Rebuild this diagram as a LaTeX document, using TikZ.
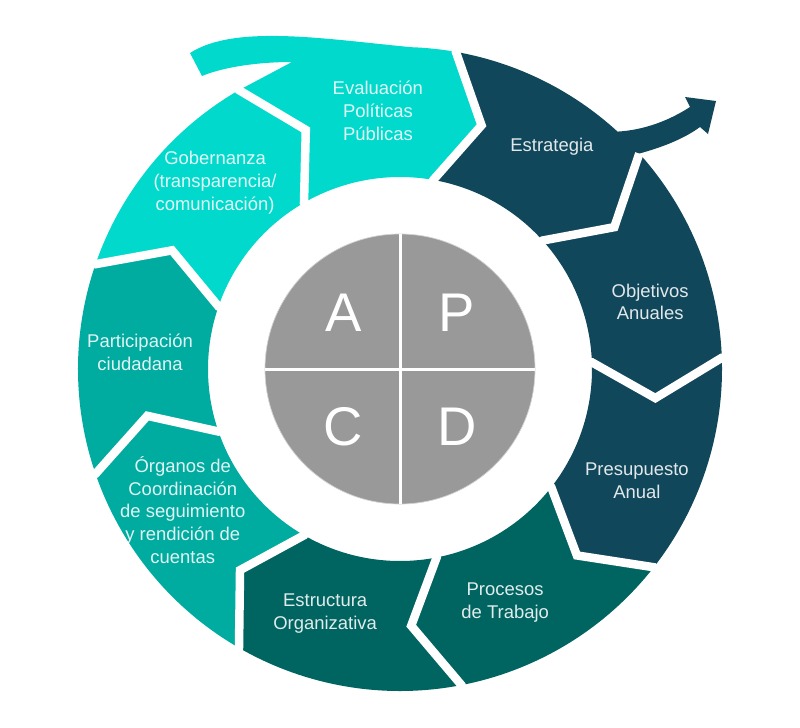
\documentclass[tikz,border=0pt]{standalone}
\usepackage{fontspec}
\setmainfont{Liberation Sans}
\definecolor{turquesa}{HTML}{00D9CB}
\definecolor{verdeazul}{HTML}{00ABA0}
\definecolor{verdeoscuro}{HTML}{006461}
\definecolor{azuloscuro}{HTML}{11475A}
\definecolor{gris}{HTML}{999999}
\begin{document}
\begin{tikzpicture}[line join=miter,
  texto/.style={text=white, text opacity=0.88, align=center, font=\fontsize{10.5}{13}\selectfont},
  letra/.style={text=white, font=\fontsize{31}{31}\selectfont},
  hueco/.style={draw=white, line width=0.17cm}]
\useasboundingbox (-8,-7.16) rectangle (8,7.38);
% Segmentos
% ---
% Evaluacion (con cola)
% ---
\fill[turquesa] (120:6.44cm) -- (111.5:5.14cm) -- (120:3.84cm) arc[start angle=120, end angle=80, radius=3.84cm] -- (71.5:5.14cm) -- (80:6.44cm) arc[start angle=80, end angle=88, radius=6.44cm] .. controls (-1.5,6.6) and (-3.3,6.9) .. (-4.2,6.32) -- (-3.96,5.86) .. controls (-3.5,6.05) and (-2.8,6.14) .. (-2.16,6.14) -- cycle;
% ---
% Estrategia (con flecha)
% ---
\fill[azuloscuro] (80:6.44cm) -- (71.5:5.14cm) -- (80:3.84cm) arc[start angle=80, end angle=42, radius=3.84cm] -- (33.5:5.14cm) -- (42:6.44cm) .. controls (5.3,4.45) and (5.7,4.62) .. (6.0,4.84) -- (6.16,4.70) -- (6.32,5.36) -- (5.70,5.44) -- (5.80,5.24) .. controls (5.4,4.98) and (4.9,4.78) .. (47.5:6.44cm) arc[start angle=47.5, end angle=80, radius=6.44cm] -- cycle;
% ---
% Resto del anillo
% ---
\fill[azuloscuro] (42:6.44cm) -- (33.5:5.14cm) -- (42:3.84cm) arc[start angle=42, end angle=2, radius=3.84cm] -- (-6.5:5.14cm) -- (2:6.44cm) arc[start angle=2, end angle=42, radius=6.44cm] -- cycle;
\fill[azuloscuro] (2:6.44cm) -- (-6.5:5.14cm) -- (2:3.84cm) arc[start angle=2, end angle=-38, radius=3.84cm] -- (-46.5:5.14cm) -- (-38:6.44cm) arc[start angle=-38, end angle=2, radius=6.44cm] -- cycle;
\fill[verdeoscuro] (-38:6.44cm) -- (-46.5:5.14cm) -- (-38:3.84cm) arc[start angle=-38, end angle=-79, radius=3.84cm] -- (-87.5:5.14cm) -- (-79:6.44cm) arc[start angle=-79, end angle=-38, radius=6.44cm] -- cycle;
\fill[verdeoscuro] (-79:6.44cm) -- (-87.5:5.14cm) -- (-79:3.84cm) arc[start angle=-79, end angle=-120, radius=3.84cm] -- (-128.5:5.14cm) -- (-120:6.44cm) arc[start angle=-120, end angle=-79, radius=6.44cm] -- cycle;
\fill[verdeazul] (-120:6.44cm) -- (-128.5:5.14cm) -- (-120:3.84cm) arc[start angle=-120, end angle=-161, radius=3.84cm] -- (-169.5:5.14cm) -- (-161:6.44cm) arc[start angle=-161, end angle=-120, radius=6.44cm] -- cycle;
\fill[verdeazul] (-161:6.44cm) -- (-169.5:5.14cm) -- (-161:3.84cm) arc[start angle=-161, end angle=-199, radius=3.84cm] -- (-207.5:5.14cm) -- (-199:6.44cm) arc[start angle=-199, end angle=-161, radius=6.44cm] -- cycle;
\fill[turquesa] (-199:6.44cm) -- (-207.5:5.14cm) -- (-199:3.84cm) arc[start angle=-199, end angle=-240, radius=3.84cm] -- (-248.5:5.14cm) -- (-240:6.44cm) arc[start angle=-240, end angle=-199, radius=6.44cm] -- cycle;
% Huecos
\draw[hueco] (80:3.6cm) -- (80:3.84cm) -- (71.5:5.14cm) -- (80:6.44cm) -- (80:6.7cm);
\draw[hueco] (42:3.6cm) -- (42:3.84cm) -- (33.5:5.14cm) -- (42:6.44cm);
\draw[hueco] (2:3.6cm) -- (2:3.84cm) -- (-6.5:5.14cm) -- (2:6.44cm) -- (2:6.7cm);
\draw[hueco] (-38:3.6cm) -- (-38:3.84cm) -- (-46.5:5.14cm) -- (-38:6.44cm) -- (-38:6.7cm);
\draw[hueco] (-79:3.6cm) -- (-79:3.84cm) -- (-87.5:5.14cm) -- (-79:6.44cm) -- (-79:6.7cm);
\draw[hueco] (-120:3.6cm) -- (-120:3.84cm) -- (-128.5:5.14cm) -- (-120:6.44cm) -- (-120:6.7cm);
\draw[hueco] (-161:3.6cm) -- (-161:3.84cm) -- (-169.5:5.14cm) -- (-161:6.44cm) -- (-161:6.7cm);
\draw[hueco] (-199:3.6cm) -- (-199:3.84cm) -- (-207.5:5.14cm) -- (-199:6.44cm) -- (-199:6.7cm);
\draw[hueco] (-240:3.6cm) -- (-240:3.84cm) -- (-248.5:5.14cm) -- (-240:6.44cm) -- (-240:6.62cm);
% Circulo central
\node [circle, fill=gris, draw=gray!35, line width=0.4pt, minimum size=5.4cm, inner sep=0pt] (ciclo) at (0,0) {};
\draw[white, line width=0.06cm] (ciclo.west) -- (ciclo.east);
\draw[white, line width=0.06cm] (ciclo.north) -- (ciclo.south);
\node [letra] (A) at (135:1.6cm) {A};
\node [letra] (P) at (45:1.6cm) {P};
\node [letra] (C) at (225:1.62cm) {C};
\node [letra] (D) at (315:1.62cm) {D};
% Textos
\node [texto] (eval) at (94.9:5.18cm) {Evaluación\\Políticas\\Públicas};
\node [texto] (estr) at (55.6:5.38cm) {Estrategia};
\node [texto] (obj) at (15:5.18cm) {Objetivos\\Anuales};
\node [texto] (pres) at (-25.3:5.24cm) {Presupuesto\\Anual};
\node [texto] (proc) at (-65.8:5.13cm) {Procesos\\de Trabajo};
\node [texto] (estruc) at (-107:5.12cm) {Estructura\\Organizativa};
\node [texto] (org) at (-147:5.18cm) {Órganos de\\Coordinación\\de seguimiento\\y rendición de\\cuentas};
\node [texto] (part) at (176.3:5.21cm) {Participación\\ciudadana};
\node [texto] (gob) at (134.8:5.25cm) {Gobernanza\\(transparencia/\\comunicación)};
\end{tikzpicture}
\end{document}
